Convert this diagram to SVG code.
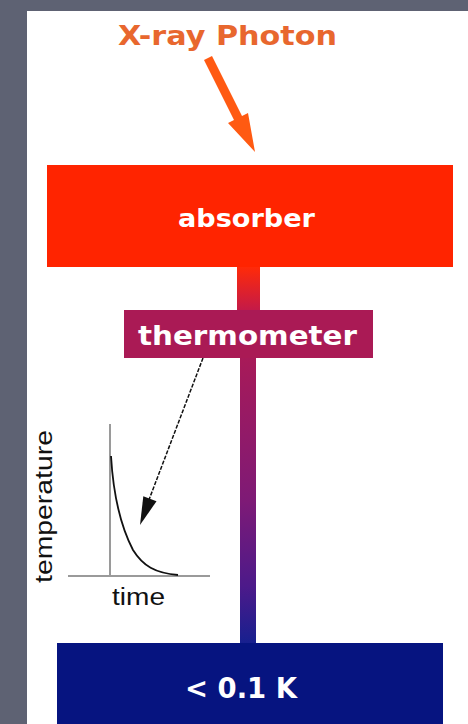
<svg xmlns="http://www.w3.org/2000/svg" width="468" height="724" viewBox="0 0 468 724">
<defs>
<linearGradient id="stemUpper" x1="0" y1="267" x2="0" y2="310" gradientUnits="userSpaceOnUse">
<stop offset="0" stop-color="#FF2A08"/>
<stop offset="1" stop-color="#C41A48"/>
</linearGradient>
<linearGradient id="stemLower" x1="0" y1="358" x2="0" y2="644" gradientUnits="userSpaceOnUse">
<stop offset="0" stop-color="#A81A58"/>
<stop offset="0.5" stop-color="#7E1A76"/>
<stop offset="0.8" stop-color="#4C1A8A"/>
<stop offset="1" stop-color="#16208F"/>
</linearGradient>
</defs>
<style>
.box-label{font-family:"DejaVu Sans","Liberation Sans",sans-serif;font-weight:bold;fill:#FFFFFF;}
.plot-label{font-family:"Liberation Sans",Arial,sans-serif;fill:#111111;}
.axis{stroke:#9A9A9A;stroke-width:2;fill:none;}
</style>
<rect x="0" y="0" width="468" height="724" fill="#5E6273"/>
<rect x="27" y="11" width="441" height="713" fill="#FFFFFF"/>
<g id="connectors">
<rect x="237" y="266" width="23" height="45" fill="url(#stemUpper)"/>
<rect x="240" y="357" width="16" height="287" fill="url(#stemLower)"/>
<polygon points="212,56 242,116 248,113 255,152 228,123 234,120 204,60" fill="#FF5A12"/>
<line x1="203" y1="358" x2="147" y2="505" stroke="#111111" stroke-width="1.5" stroke-dasharray="4 1.5"/>
<polygon points="140,525 156.5,501.3 143.3,496.3" fill="#111111"/>
</g>
<g id="xray-label">
<text x="118" y="45" font-family="DejaVu Sans, Liberation Sans, sans-serif" font-weight="bold" font-size="26" fill="#E8672E" textLength="219" lengthAdjust="spacingAndGlyphs">X-ray Photon</text>
</g>
<g id="absorber">
<rect x="47" y="165" width="406" height="102" fill="#FF2400"/>
<text class="box-label" x="178" y="227" font-size="25" textLength="137" lengthAdjust="spacingAndGlyphs">absorber</text>
</g>
<g id="thermometer">
<rect x="124" y="310" width="249" height="48" fill="#AA1A55"/>
<text class="box-label" x="138" y="345" font-size="26" textLength="219" lengthAdjust="spacingAndGlyphs">thermometer</text>
</g>
<g id="bath">
<rect x="57" y="643" width="386" height="81" fill="#061480"/>
<text class="box-label" x="185" y="698" font-size="28" textLength="112" lengthAdjust="spacingAndGlyphs">&lt; 0.1 K</text>
</g>
<g id="plot">
<line class="axis" x1="110" y1="424" x2="110" y2="577"/>
<line class="axis" x1="68" y1="576" x2="210" y2="576"/>
<path d="M111,456 C113,490 120,525 133,550 C143,566 155,573 178,575" fill="none" stroke="#111111" stroke-width="1.8"/>
<text class="plot-label" font-size="23" transform="translate(52,506.5) rotate(-90)" text-anchor="middle" textLength="153" lengthAdjust="spacingAndGlyphs">temperature</text>
<text class="plot-label" x="112" y="605" font-size="23" textLength="53" lengthAdjust="spacingAndGlyphs">time</text>
</g>
</svg>
